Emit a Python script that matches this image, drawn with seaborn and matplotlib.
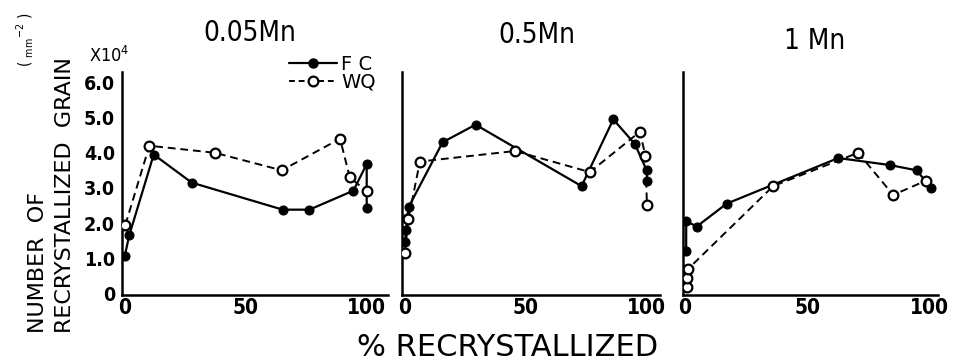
import matplotlib
matplotlib.use("Agg")
import matplotlib.pyplot as plt
import seaborn as sns
from matplotlib.lines import Line2D

sns.set_theme(style="white")
plt.rcParams['font.family'] = ['DejaVu Sans']
plt.rcParams['font.stretch'] = 'condensed'
for k in ['text.color', 'axes.labelcolor', 'xtick.color', 'ytick.color']:
    plt.rcParams[k] = 'black'

# ---- data (x = % recrystallized, y = number of grains x10^4 per mm^2) ----
titles = ["0.05Mn", "0.5Mn", "1 Mn"]

fc_x_005 = [0, 1.9, 12, 27.7, 65.3, 76.3, 94.5, 100, 100]
fc_y_005 = [1.05, 1.65, 3.95, 3.15, 2.38, 2.38, 2.92, 3.68, 2.42]
wq_x_005 = [0.3, 10.2, 37.3, 64.9, 89, 93, 100]
wq_y_005 = [1.95, 4.2, 4.0, 3.5, 4.4, 3.3, 2.9]

fc_x_05 = [0, 0.5, 1, 1.5, 15.6, 29.2, 73, 86.1, 95, 99.9, 100]
fc_y_05 = [1.45, 1.8, 2.15, 2.45, 4.3, 4.8, 3.05, 4.95, 4.25, 3.5, 3.2]
wq_x_05 = [0, 1.4, 6.2, 45.5, 76.4, 97.1, 99.4, 100]
wq_y_05 = [1.15, 2.1, 3.75, 4.05, 3.45, 4.6, 3.9, 2.5]

fc_x_1 = [0.5, 0.5, 4.8, 17, 62.6, 83.7, 94.6, 100.4]
fc_y_1 = [1.2, 2.05, 1.9, 2.55, 3.85, 3.65, 3.5, 3.0]
wq_x_1 = [1, 1, 1.4, 36, 70.7, 85, 98.2]
wq_y_1 = [0.18, 0.42, 0.7, 3.05, 4.0, 2.8, 3.2]

series = [
    (fc_x_005, fc_y_005, wq_x_005, wq_y_005),
    (fc_x_05, fc_y_05, wq_x_05, wq_y_05),
    (fc_x_1, fc_y_1, wq_x_1, wq_y_1),
]

y_ticks = [0, 1, 2, 3, 4, 5, 6]
y_ticklabels = ["0", "1.0", "2.0", "3.0", "4.0", "5.0", "6.0"]
x_ticks = [0, 50, 100]
x_ticklabels = ["0", "50", "100"]

W, H = 959, 363
fig = plt.figure(figsize=(W / 100, H / 100), dpi=100)

boxes = [((122, 388), (-1.1, 108.8)),
         ((402, 660), (-1.2, 105.4)),
         ((683, 938), (-0.8, 103.3))]
top_px, bot_px = 72, 295
title_pos = [(250, 33, 20), (537, 35, 20), (815, 41, 20)]

for i, (((l, r), xlim), (fcx, fcy, wqx, wqy)) in enumerate(zip(boxes, series)):
    ax = fig.add_axes([l / W, 1 - bot_px / H, (r - l) / W, (bot_px - top_px) / H])
    ax.set_facecolor("none")
    sns.lineplot(x=fcx, y=fcy, ax=ax, sort=False, estimator=None, color="black",
                 linewidth=1.6, marker="o", markersize=6.5, markerfacecolor="black",
                 markeredgecolor="black", zorder=3)
    sns.lineplot(x=wqx, y=wqy, ax=ax, sort=False, estimator=None, color="black",
                 linewidth=1.4, linestyle=(0, (4, 2.5)), marker="o", markersize=7,
                 markerfacecolor="white", markeredgecolor="black", markeredgewidth=1.6,
                 zorder=4)
    ax.set_xlim(*xlim)
    ax.set_ylim(-0.05, 6.3)
    for s in ["top", "right"]:
        ax.spines[s].set_visible(False)
    for s in ["left", "bottom"]:
        ax.spines[s].set_color("black")
        ax.spines[s].set_linewidth(1.8)
    ax.set_xticks(x_ticks)
    ax.set_xticklabels(x_ticklabels, fontsize=15, fontweight="bold")
    ax.tick_params(axis="x", length=0, pad=2)
    if i == 0:
        ax.set_yticks(y_ticks)
        ax.set_yticklabels(y_ticklabels, fontsize=14, fontweight="bold")
        ax.tick_params(axis="y", length=0, pad=5)
    else:
        ax.set_yticks([])
    ax.set_xlabel("")
    ax.set_ylabel("")
    ax.grid(False)
    tx, ty, fs = title_pos[i]
    fig.text(tx / W, 1 - ty / H, titles[i], ha="center", va="center", fontsize=fs)

handles = [Line2D([], [], color="black", linewidth=1.6, marker="o", markersize=6.5,
                  markerfacecolor="black"),
           Line2D([], [], color="black", linewidth=1.4, linestyle=(0, (3, 2)), marker="o",
                  markersize=7, markerfacecolor="white", markeredgewidth=1.6)]
fig.legend(handles, ["F C", "WQ"], loc="upper left",
           bbox_to_anchor=(279 / W, 1 - 45 / H), frameon=False,
           prop={"size": 14, "stretch": "normal"},
           handlelength=2.5, handletextpad=0.2, labelspacing=-0.05, borderpad=0)

fig.text(38 / W, 1 - 333 / H, "NUMBER  OF", rotation=90, ha="center", va="bottom",
         fontsize=16, fontstretch="normal")
fig.text(65 / W, 1 - 333 / H, "RECRYSTALLIZED  GRAIN", rotation=90, ha="center",
         va="bottom", fontsize=16, fontstretch="normal")
fig.text(25 / W, 1 - 67 / H, "( $\\mathregular{_{mm}}^{-2}$ )", rotation=90, ha="center",
         va="bottom", fontsize=11)
fig.text(89 / W, 1 - 62 / H, "X10$^{4}$", ha="left", va="baseline", fontsize=13)

fig.text(508 / W, 1 - 348 / H, "% RECRYSTALLIZED", ha="center", va="center",
         fontsize=22, fontstretch="normal")

fig.savefig("out.png", dpi=100)
